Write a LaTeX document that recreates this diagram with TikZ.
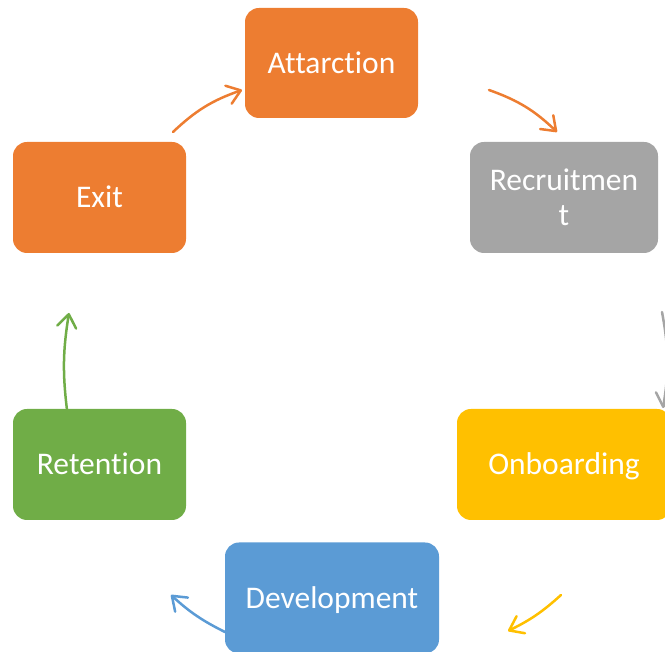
\documentclass[tikz,border=0pt]{standalone}
\usepackage{fontspec}
\setmainfont{Carlito}[RawFeature={-liga;-dlig;-clig}]
\usetikzlibrary{arrows.meta}
\definecolor{cOrange}{HTML}{ED7D31}
\definecolor{cGray}{HTML}{A5A5A5}
\definecolor{cGold}{HTML}{FFC000}
\definecolor{cBlue}{HTML}{5B9BD5}
\definecolor{cGreen}{HTML}{70AD47}
\tikzset{
  stage/.style={rounded corners=14pt, fill=#1, draw=none, text=white,
    align=center, inner sep=0pt,
    font=\fontsize{31.5}{35}\selectfont},
  oneline/.style={text height=20.5pt, text depth=0pt},
  cyclearrow/.style={draw=#1, line width=2.5pt, line cap=round,
    -{Straight Barb[length=13pt,width=19pt,round]}},
}
\begin{document}
\begin{tikzpicture}[x=1pt,y=1pt]
\useasboundingbox (0,0) rectangle (665,652);
\clip (0,0) rectangle (665,652);

% stages of the cycle
\node[stage=cOrange, oneline, minimum width=173pt, minimum height=110pt] (attr) at (331.5,589) {Attarction};
\node[stage=cGray,            minimum width=188pt, minimum height=111pt] (recr) at (564,454.5) {Recruitmen\\t};
\node[stage=cGold,   oneline, minimum width=214pt, minimum height=111pt] (onb)  at (564,187.5) {Onboarding};
\node[stage=cBlue,   oneline, minimum width=214pt, minimum height=111pt] (dev)  at (332,54) {Development};
\node[stage=cGreen,  oneline, minimum width=173pt, minimum height=111pt] (ret)  at (99.5,187.5) {Retention};
\node[stage=cOrange, oneline, minimum width=173pt, minimum height=111pt] (exit) at (99.5,454.5) {Exit};

% arrow end points between the stages
\coordinate (a1s) at (173,520);  \coordinate (a1e) at (242,562);
\coordinate (a2s) at (489,562);  \coordinate (a2e) at (557,520);
\coordinate (a3s) at (662,340);  \coordinate (a3e) at (663,244);
\coordinate (a4s) at (561,57);   \coordinate (a4e) at (508,21);
\coordinate (a5s) at (225,20);   \coordinate (a5e) at (171,57);
\coordinate (a6s) at (67,242);   \coordinate (a6e) at (69,339);

% curved arrows around the cycle
\draw[cyclearrow=cOrange] (a1s) to[bend left=12] (a1e);
\draw[cyclearrow=cOrange] (a2s) to[bend left=12] (a2e);
\draw[cyclearrow=cGray]   (a3s) to[bend left=10] (a3e);
\draw[cyclearrow=cGold]   (a4s) to[bend left=8]  (a4e);
\draw[cyclearrow=cBlue]   (a5s) to[bend left=8]  (a5e);
\draw[cyclearrow=cGreen]  (a6s) to[bend left=8]  (a6e);
\end{tikzpicture}
\end{document}
